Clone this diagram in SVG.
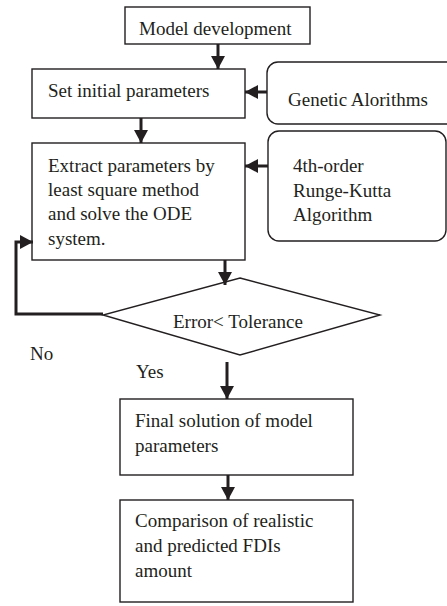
<svg xmlns="http://www.w3.org/2000/svg" width="447" height="606" viewBox="0 0 447 606">
<defs>
<marker id="ah" markerUnits="userSpaceOnUse" markerWidth="14" markerHeight="14" viewBox="0 0 14 14" refX="13" refY="7" orient="auto">
<path d="M0,0 L13,7 L0,14 Z" fill="#231f20"/>
</marker>
</defs>
<style>
.box{fill:#fff;stroke:#231f20;stroke-width:1.4}
.t{font-family:"Liberation Serif","Times New Roman",serif;font-size:19px;fill:#231f20}
.c{fill:none;stroke:#231f20;stroke-width:3}
.ca{fill:none;stroke:#231f20;stroke-width:3;marker-end:url(#ah)}
</style>
<rect width="447" height="606" fill="#fff"/>
<g id="model">
<rect class="box" x="125" y="7" width="185" height="37"/>
<text class="t" x="139" y="35">Model development</text>
</g>
<g id="setinit">
<rect class="box" x="32" y="69" width="213" height="49"/>
<text class="t" x="48" y="97">Set initial parameters</text>
</g>
<g id="genetic">
<rect class="box" x="267" y="62" width="195" height="62" rx="11"/>
<text class="t" x="288" y="106">Genetic  Alorithms</text>
</g>
<g id="extract">
<rect class="box" x="32" y="143" width="213" height="117"/>
<text class="t" x="48" y="172">Extract parameters by</text>
<text class="t" x="48" y="196">least square method</text>
<text class="t" x="48" y="220">and solve the ODE</text>
<text class="t" x="48" y="245">system.</text>
</g>
<g id="runge">
<rect class="box" x="268" y="131" width="178" height="110" rx="11"/>
<text class="t" x="293" y="172">4th-order</text>
<text class="t" x="293" y="197">Runge-Kutta</text>
<text class="t" x="293" y="221">Algorithm</text>
</g>
<g id="decision">
<polygon class="box" points="240,278 380,315 240,355 103,315"/>
<text class="t" x="173" y="328">Error&lt; Tolerance</text>
</g>
<g id="final">
<rect class="box" x="120" y="399" width="233" height="76"/>
<text class="t" x="135" y="427">Final solution of model</text>
<text class="t" x="135" y="452">parameters</text>
</g>
<g id="compare">
<rect class="box" x="120" y="500" width="233" height="102"/>
<text class="t" x="135" y="527">Comparison of realistic</text>
<text class="t" x="135" y="552">and predicted FDIs</text>
<text class="t" x="135" y="577">amount</text>
</g>
<g id="connectors">
<line class="ca" x1="218" y1="44" x2="218" y2="69"/>
<line class="ca" x1="267" y1="92" x2="245" y2="92"/>
<line class="ca" x1="141" y1="118" x2="141" y2="143"/>
<line class="ca" x1="268" y1="166" x2="245" y2="166"/>
<line class="ca" x1="225" y1="260" x2="225" y2="285"/>
<polyline class="ca" points="103,314 16,314 16,242 33,242"/>
<line class="ca" x1="227" y1="362" x2="227" y2="399"/>
<line class="ca" x1="228" y1="475" x2="228" y2="500"/>
<text class="t" x="30" y="360">No</text>
<text class="t" x="136" y="378">Yes</text>
</g>
</svg>
